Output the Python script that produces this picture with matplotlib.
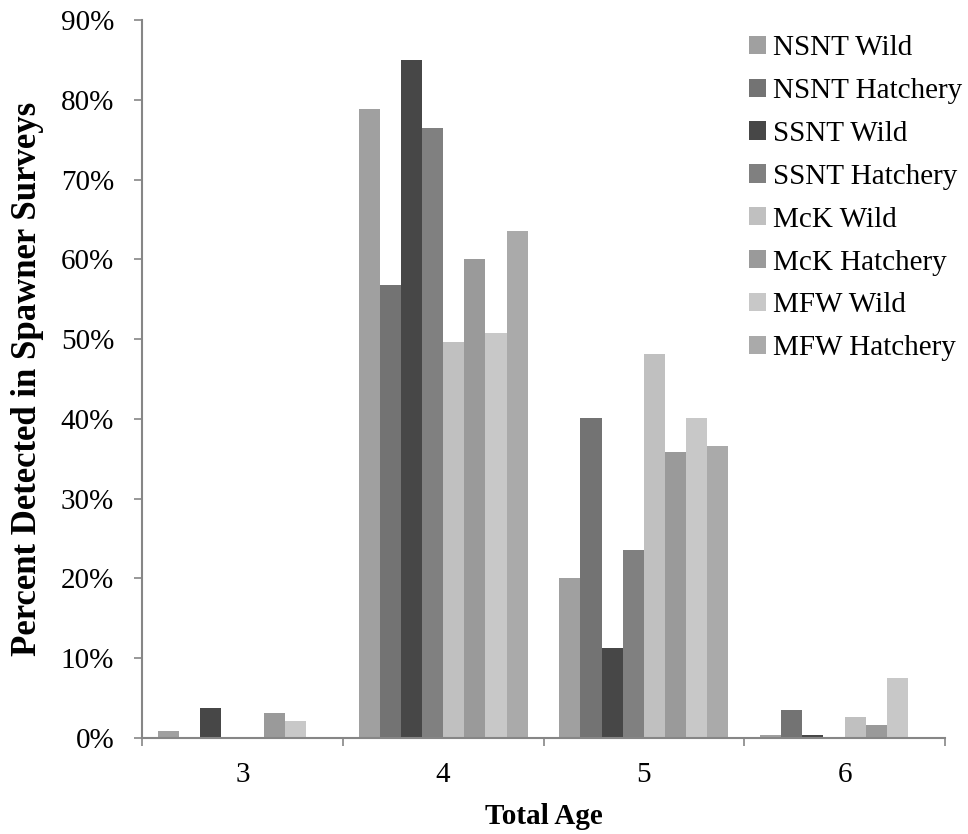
import numpy as np
import matplotlib
matplotlib.use("Agg")
import matplotlib.pyplot as plt
from matplotlib.ticker import FuncFormatter

plt.rcParams['font.family'] = ['Liberation Serif', 'DejaVu Serif']

ages = ["3", "4", "5", "6"]
series = ["NSNT Wild", "NSNT Hatchery", "SSNT Wild", "SSNT Hatchery",
          "McK Wild", "McK Hatchery", "MFW Wild", "MFW Hatchery"]
colors = ["#A0A0A0", "#737373", "#474747", "#808080",
          "#C0C0C0", "#9A9A9A", "#C8C8C8", "#AAAAAA"]

nsnt_wild = [0.9, 78.8, 20.1, 0.4]
nsnt_hatch = [0.0, 56.8, 40.1, 3.5]
ssnt_wild = [3.7, 85.0, 11.3, 0.4]
ssnt_hatch = [0.0, 76.5, 23.6, 0.0]
mck_wild = [0.0, 49.7, 48.1, 2.6]
mck_hatch = [3.1, 60.1, 35.9, 1.6]
mfw_wild = [2.1, 50.8, 40.1, 7.5]
mfw_hatch = [0.0, 63.6, 36.6, 0.0]
values = [nsnt_wild, nsnt_hatch, ssnt_wild, ssnt_hatch,
          mck_wild, mck_hatch, mfw_wild, mfw_hatch]

W, H = 968, 834
fig = plt.figure(figsize=(W / 100, H / 100), dpi=100)
ax = fig.add_axes([142 / W, (H - 738) / H, (945 - 142) / W, (738 - 20) / H])

x = np.arange(len(ages))
bw = 1 / 9.5
for i, (name, vals, c) in enumerate(zip(series, values, colors)):
    ax.bar(x + (i - 3.5) * bw, vals, width=bw, color=c, label=name,
           edgecolor="none", zorder=2)

ax.set_xlim(-0.5, 3.5)
ax.set_ylim(0, 90)
ax.set_yticks(np.arange(0, 91, 10))
ax.yaxis.set_major_formatter(FuncFormatter(lambda v, p: f"{v:.0f}%"))
ax.set_xticks(x)
ax.set_xticklabels(ages)
ax.set_xticks(np.arange(-0.5, 3.6, 1), minor=True)
ax.tick_params(axis="x", which="major", length=0, labelsize=21, pad=17)
ax.tick_params(axis="x", which="minor", length=6, color="#868686", width=1.2)
ax.tick_params(axis="y", length=6, color="#868686", width=1.2, labelsize=21, pad=14)

for s in ["top", "right"]:
    ax.spines[s].set_visible(False)
for s in ["left", "bottom"]:
    ax.spines[s].set_color("#868686")
    ax.spines[s].set_linewidth(1.5)

ax.set_xlabel("Total Age", fontsize=21, fontweight="bold", labelpad=11)
ax.set_ylabel("Percent Detected in Spawner Surveys", fontsize=25,
              fontweight="bold", labelpad=12)

ax.legend(loc="upper left", bbox_to_anchor=(749 / W, 1 - 35 / H),
          bbox_transform=fig.transFigure, frameon=False, fontsize=21,
          handlelength=0.58, handleheight=0.58, handletextpad=0.25,
          labelspacing=0.58, borderaxespad=0, borderpad=0)

plt.savefig("out.png", dpi=100)
